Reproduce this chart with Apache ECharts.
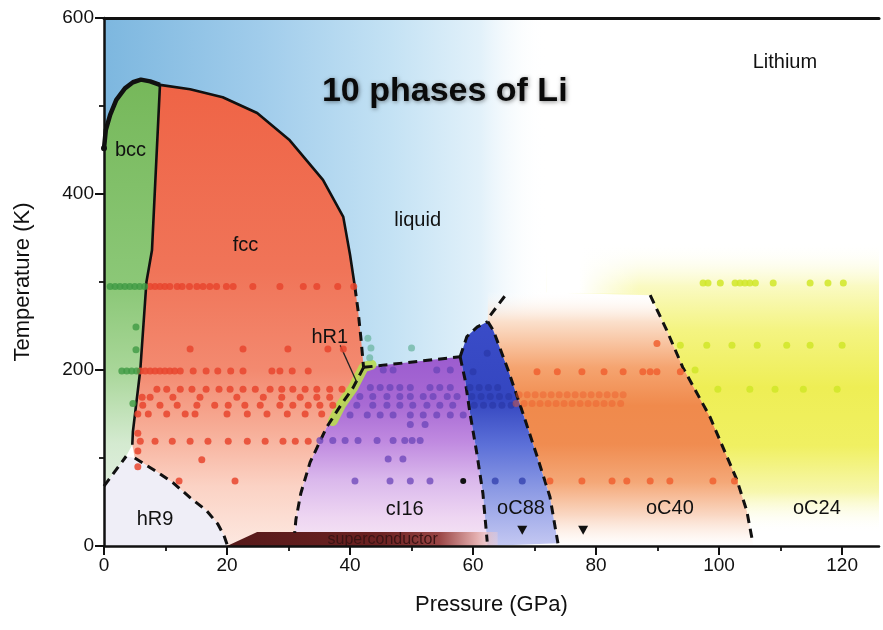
<!DOCTYPE html>
<html>
<head>
<meta charset="utf-8">
<script src="https://cdn.jsdelivr.net/npm/echarts@6/dist/echarts.min.js"></script>
<style>
html,body{margin:0;padding:0;background:#fff}
#chart{width:883px;height:630px}
</style>
</head>
<body>
<div id="chart"></div>
<script>
// ---- axis ticks ----
const xTicks = [0, 20, 40, 60, 80, 100, 120];
const xMinorTicks = [10, 30, 50, 70, 90, 110];
const yTicks = [0, 200, 400, 600];

// ---- phase boundaries, [pressure GPa, temperature K] ----
const meltBcc = [[0,452],[0.3,473],[1,490],[2,507],[3.4,520],[4.7,527],[6,530],[7.5,528],[9.1,524]];
const meltFcc = [[9.1,524],[14,519],[19.3,510],[24.9,492],[30.2,461],[35.6,416],[38.9,374],[40,331],[40.8,294]];
const meltDashed = [[40.8,294],[41.3,268],[41.8,234],[42.2,203]];
const bccFcc = [[9.1,524],[7.8,336],[6.9,300],[5.9,200],[4.7,130],[4.6,115]];
const hR9Left = [[0,68],[3.6,102]];
const hR9Curve = [[5,100],[8,87],[11.2,72],[14,55],[16.7,40],[18.5,25],[19.5,12],[20,2]];
const cI16Left = [[42.2,203],[40.5,180],[38.5,160],[36.2,135],[33.5,95],[32,60],[31.2,30],[31,15]];
const cI16Top = [[42.2,203],[57.9,215]];
const oC88Top = [[57.9,215],[59,238],[60.7,249],[62.4,255]];
const oC88Tail = [[62.8,262],[65.7,289]];
const cI16oC88 = [[57.9,215],[58.7,189],[59.5,151],[60.6,106],[61.6,60],[62.3,5]];
const oC88oC40 = [[62.4,255],[63.3,245],[65.7,200],[68.1,151],[70.5,100],[72.5,56],[73.8,3]];
const oC40oC24 = [[88.8,285],[91.5,245],[94.1,203],[98.5,147],[102.9,75],[104.5,40],[105.5,3]];
const superconductorEdge = [[20,0],[24.9,16],[64,16],[64,0]];
const hR1Leader = [[38.4,228],[41.1,186]];

// ---- measured points ----
const fccPoints = [
  [7.5,295],[8.3,295],[9.1,295],[9.9,295],[10.7,295],[11.9,295],[12.7,295],[13.9,295],[15.1,295],[16.1,295],[17.2,295],[18.3,295],[19.9,295],[21,295],[24.2,295],[28.6,295],[32.4,295],[34.6,295],[38,295],[40.6,295],
  [14,224],[22.6,224],[29.9,224],[36.4,224],[38.9,224],
  [5.9,199],[6.7,199],[7.5,199],[8.3,199],[9.1,199],[9.9,199],[10.7,199],[11.5,199],[12.4,199],[14.5,199],[16.6,199],[18.5,199],[20.6,199],[22.6,199],[27.3,199],[28.6,199],[30.6,199],[33.2,199],
  [8.6,178],[10.2,178],[12.4,178],[14.3,178],[16.6,178],[18.7,178],[20.5,178],[22.6,178],[24.6,178],[27,178],[28.9,178],[30.7,178],[32.7,178],[34.6,178],[36.7,178],[38.7,178],
  [6.2,169],[7.5,169],[11.2,169],[15.6,169],[21.6,169],[25.9,169],[28.9,169],[31.9,169],[34.6,169],[36.7,169],
  [6.3,160],[9.1,160],[11.9,160],[15.1,160],[18,160],[20.2,160],[22.9,160],[25.4,160],[28.6,160],[30.7,160],[33.2,160],[35.1,160],[37.2,160],
  [5.5,150],[7.2,150],[10.2,150],[13.2,150],[14.8,150],[20,150],[23.3,150],[26.5,150],[29.8,150],[32.7,150],[35.4,150],
  [5.5,128],
  [5.9,119],[8.3,119],[11.1,119],[14,119],[16.9,119],[20.2,119],[23.3,119],[26.2,119],[29.1,119],[31.1,119],[33.2,119],
  [5.5,108],[15.9,98],[5.5,90],[12.2,74],[21.3,74]
];
const bccPoints = [
  [1,295],[1.8,295],[2.6,295],[3.4,295],[4.2,295],[5,295],[5.8,295],[6.6,295],
  [5.2,249],[5.2,223],
  [2.9,199],[3.7,199],[4.5,199],[5.3,199],[4.7,162]
];
const cI16Points = [
  [45.4,200],[47,200],[54.1,200],[56.3,200],
  [43.3,180],[44.9,180],[46.5,180],[48.1,180],[49.8,180],[53,180],[54.6,180],[56.3,180],
  [41.6,170],[43.7,170],[46,170],[48.1,170],[49.8,170],[51.9,170],[53.5,170],[55.8,170],[57.4,170],
  [41.1,160],[43.7,160],[46,160],[48.1,160],[50.2,160],[52.5,160],[54.6,160],[56.7,160],
  [40,149],[42.8,149],[44.9,149],[47,149],[49.8,149],[51.9,149],[54.1,149],[56.3,149],[58.4,149],
  [49.8,138],[52.2,138],
  [35.1,120],[37.2,120],[39.2,120],[41.3,120],[44.4,120],[47,120],[48.9,120],[50.1,120],[51.4,120],
  [46.2,99],[48.6,99],
  [40.8,74],[46.5,74],[49.8,74],[53,74]
];
const oC88Points = [
  [62.3,219],[60,198],
  [59.5,180],[61,180],[62.5,180],[64,180],
  [59.8,170],[61.3,170],[62.8,170],[64.3,170],[65.8,170],
  [60.2,160],[61.7,160],[63.2,160],[64.7,160],[66.2,160],
  [63.6,74],[68,74]
];
const oC40Points = [
  [89.9,230],
  [70.4,198],[73.7,198],[77.7,198],[81.3,198],[84.4,198],[87.6,198],[88.8,198],[89.9,198],[93.7,198],
  [72.5,74],[77.7,74],[82.6,74],[85,74],[88.8,74],[92,74],[99,74],[102.5,74]
];
const oC40FaintPoints = [
  [67.5,172],[68.8,172],[70.1,172],[71.4,172],[72.7,172],[74,172],[75.3,172],[76.6,172],[77.9,172],[79.2,172],[80.5,172],[81.8,172],[83.1,172],[84.4,172],
  [67,162],[68.3,162],[69.6,162],[70.9,162],[72.2,162],[73.5,162],[74.8,162],[76.1,162],[77.4,162],[78.7,162],[80,162],[81.3,162],[82.6,162],[84,162]
];
const oC24Points = [
  [97.4,299],[98.2,299],[100.2,299],[102.6,299],[103.4,299],[104.2,299],[105,299],[105.9,299],[108.8,299],[114.8,299],[117.7,299],[120.2,299],
  [93.7,228],[98,228],[102.1,228],[106.2,228],[111,228],[114.8,228],[120,228],
  [96.1,200],
  [99.8,178],[105,178],[109.1,178],[113.7,178],[119.2,178]
];
const liquidPoints = [[42.9,236],[43.4,225],[43.2,214],[50,225]];
const blackPoints = [[0,452],[58.4,74]];
const triangleMarks = [[68,18],[77.9,18]];

// ---- text ----
const phaseNames = [
  ['bcc', 4.3, 449], ['fcc', 23, 342], ['liquid', 51, 370], ['hR1', 36.7, 237],
  ['hR9', 8.3, 30], ['cI16', 48.9, 41], ['oC88', 67.8, 43], ['oC40', 92, 43], ['oC24', 115.9, 43]
];
const titleText = ['10 phases of Li', 55.4, 516];
const elementText = ['Lithium', 110.7, 550];
const scText = ['superconductor', 45.3, 7];

const FONT = '"Liberation Sans", Arial, Helvetica, sans-serif';

function rev(a) { return a.slice().reverse(); }

// filled phase areas, built from the boundary arrays
const regions = [
  { name: 'liquid', pts: [[0,200],[72,200],[72,600],[0,600]],
    fill: (px) => grad(px(0,0)[0], 0, px(72,0)[0], 0,
      [[0,'#7db7df'],[0.35,'#a0cceb'],[0.65,'#c4e2f4'],[0.85,'#e2f1fa'],[1,'rgba(255,255,255,0)']]) },
  { name: 'oC24', pts: [[72,345],[126,345],[126,15],[105.5,15]].concat(rev(oC40oC24), [[72,288]]),
    fill: (px) => grad(0, px(0,345)[1], 0, px(0,15)[1],
      [[0,'rgba(255,255,255,0)'],[0.15,'#fafac2'],[0.3,'#f4f482'],[0.5,'#eeee55'],[0.7,'#f0f062'],[0.86,'#f7f7ae'],[1,'rgba(255,255,255,0)']]) },
  // soft white edge on the left of the oC24 tint, above the oC40 band
  { name: 'haze', pts: [[72,287],[88.8,287],[84.7,346],[72,346]],
    fill: (px) => grad(px(72,0)[0], 0, px(87,0)[0], 0,
      [[0,'#ffffff'],[0.35,'#ffffff'],[1,'rgba(255,255,255,0)']]) },
  { name: 'oC40', pts: [[62.4,290],[88.8,290]].concat(oC40oC24, [[105.5,0],[73.8,0]], rev(oC88oC40)),
    fill: (px) => grad(0, px(0,290)[1], 0, px(0,0)[1],
      [[0,'rgba(255,255,255,0)'],[0.12,'#fbe0cc'],[0.3,'#f5a470'],[0.45,'#f08a4c'],[0.6,'#f08c50'],[0.75,'#f4a878'],[0.88,'#fad8c4'],[1,'rgba(255,255,255,0.6)']]) },
  { name: 'fcc', pts: meltFcc.concat(meltDashed.slice(1), cI16Left.slice(1), [[31,0],[20,0]], rev(hR9Curve), [[4.6,115]], rev(bccFcc).slice(1)),
    fill: (px) => grad(0, px(0,524)[1], 0, px(0,0)[1],
      [[0,'#ef6446'],[0.4,'#f07458'],[0.62,'#f38a70'],[0.75,'#f7ae98'],[0.87,'#fbd2c4'],[1,'#fde8e0']]) },
  { name: 'bcc', pts: meltBcc.concat(bccFcc.slice(1), rev(hR9Left)),
    fill: (px) => grad(0, px(0,530)[1], 0, px(0,0)[1],
      [[0,'#76b85a'],[0.45,'#8cc878'],[0.62,'#a8d698'],[0.78,'#d4ead0'],[1,'#eef4ee']]) },
  { name: 'hR9', pts: [[0,0]].concat(hR9Left, hR9Curve, [[20,0]]),
    fill: () => '#efeef7' },
  { name: 'cI16', pts: cI16Top.concat(cI16oC88.slice(1), [[62.3,0],[31,0]], rev(cI16Left)),
    fill: (px) => grad(0, px(0,215)[1], 0, px(0,0)[1],
      [[0,'#9c5ccf'],[0.25,'#a86ad4'],[0.45,'#c08ae0'],[0.65,'#dab8ec'],[0.85,'#eed6f2'],[1,'#f6e6f4']]) },
  { name: 'oC88', pts: oC88Top.concat(oC88oC40.slice(1), [[62.3,0]], rev(cI16oC88)),
    fill: (px) => grad(0, px(0,255)[1], 0, px(0,0)[1],
      [[0,'#3a4cc8'],[0.35,'#3446c0'],[0.55,'#5c70d8'],[0.75,'#8c9ae4'],[1,'#c4c8f2']]) },
  { name: 'superconductor', pts: superconductorEdge,
    fill: (px) => grad(px(20,0)[0], 0, px(66,0)[0], 0,
      [[0,'#561a1a'],[0.55,'#6c2222'],[0.75,'#9a4646'],[0.88,'#e2acac'],[1,'rgba(255,225,225,0)']]) }
];

function grad(x0, y0, x1, y1, stops) {
  return new echarts.graphic.LinearGradient(x0, y0, x1, y1,
    stops.map(s => ({ offset: s[0], color: s[1] })), true);
}

function boundary(name, data, opts) {
  return Object.assign({
    name: name, type: 'line', data: data, showSymbol: false, symbol: 'none',
    silent: true, z: 4, animation: false,
    lineStyle: { color: '#111', width: 3, type: [9, 6], cap: 'butt' }
  }, opts || {});
}

function dots(name, data, color, size, opacity) {
  return {
    name: name, type: 'scatter', data: data, symbolSize: size, silent: true, z: 5,
    itemStyle: { color: color, opacity: opacity }
  };
}

function textItem(t, size, extra) {
  return {
    name: t[0], value: [t[1], t[2]],
    label: Object.assign({ show: true, formatter: '{b}', position: 'inside',
      fontFamily: FONT, fontSize: size, color: '#111' }, extra || {})
  };
}

const chart = echarts.init(document.getElementById('chart'), null, { renderer: 'canvas' });

const axisFont = { fontFamily: FONT, fontSize: 19, color: '#111' };

chart.setOption({
  animation: false,
  backgroundColor: '#ffffff',
  grid: { left: 104, top: 18, right: 4, bottom: 84, containLabel: false, outerBoundsMode: 'none' },
  xAxis: [
    {
      type: 'value', min: 0, max: 126, interval: 20, position: 'bottom', z: 10,
      name: 'Pressure (GPa)', nameLocation: 'middle', nameGap: 48,
      nameTextStyle: { fontFamily: FONT, fontSize: 22, color: '#111' },
      axisLine: { show: true, onZero: false, lineStyle: { color: '#111', width: 2.5 } },
      axisTick: { show: true, customValues: xTicks, length: 9, lineStyle: { color: '#111', width: 2 } },
      axisLabel: Object.assign({ customValues: xTicks, margin: 10 }, axisFont),
      splitLine: { show: false }
    },
    {
      type: 'value', min: 0, max: 126, position: 'bottom', z: 10,
      axisLine: { show: false },
      axisTick: { show: true, customValues: xMinorTicks, length: 5, lineStyle: { color: '#111', width: 1.8 } },
      axisLabel: { show: false }, splitLine: { show: false }
    },
    {
      type: 'value', min: 0, max: 126, position: 'top', z: 10,
      axisLine: { show: true, onZero: false, lineStyle: { color: '#111', width: 3 } },
      axisTick: { show: false }, axisLabel: { show: false }, splitLine: { show: false }
    }
  ],
  yAxis: [
    {
      type: 'value', min: 0, max: 600, interval: 200, position: 'left', z: 10,
      name: 'Temperature (K)', nameLocation: 'middle', nameGap: 70, nameRotate: 90,
      nameTextStyle: { fontFamily: FONT, fontSize: 22, color: '#111' },
      axisLine: { show: true, onZero: false, lineStyle: { color: '#111', width: 2.5 } },
      axisTick: { show: true, customValues: yTicks, length: 9, lineStyle: { color: '#111', width: 2 } },
      minorTick: { show: true, splitNumber: 2, length: 5, lineStyle: { color: '#111', width: 1.8 } },
      axisLabel: Object.assign({ customValues: yTicks, margin: 10 }, axisFont),
      splitLine: { show: false }, minorSplitLine: { show: false }
    }
  ],
  series: [
    {
      name: 'phases', type: 'custom', coordinateSystem: 'cartesian2d', silent: true, z: 1,
      data: regions.map((r, i) => [i, 0]),
      renderItem: function (params, api) {
        const r = regions[params.dataIndex];
        const px = (p, t) => api.coord([p, t]);
        return {
          type: 'polygon',
          shape: { points: r.pts.map(p => px(p[0], p[1])) },
          style: { fill: r.fill(px), stroke: null }
        };
      }
    },
    boundary('hR1 band', [[43.5,206],[42.2,203],[40.5,180],[38.5,160],[37.2,142]],
      { z: 2, lineStyle: { color: 'rgba(184,220,80,0.9)', width: 10, cap: 'round' } }),
    boundary('melting bcc', meltBcc, { lineStyle: { color: '#111', width: 4.5, type: 'solid' } }),
    boundary('melting fcc', meltFcc, { lineStyle: { color: '#111', width: 2.6, type: 'solid' } }),
    boundary('melting dashed', meltDashed),
    boundary('bcc-fcc', bccFcc, { lineStyle: { color: '#111', width: 2.6, type: 'solid' } }),
    boundary('hR9 left', hR9Left),
    boundary('hR9', hR9Curve),
    boundary('cI16 left', cI16Left),
    boundary('cI16 top', cI16Top),
    boundary('oC88 top', oC88Top),
    boundary('oC88 tail', oC88Tail),
    boundary('cI16-oC88', cI16oC88),
    boundary('oC88-oC40', oC88oC40),
    boundary('oC40-oC24', oC40oC24),
    boundary('hR1 leader', hR1Leader, { lineStyle: { color: '#222', width: 1.3, type: 'solid' } }),
    dots('fcc', fccPoints, '#e8452e', 7, 0.85),
    dots('bcc', bccPoints, '#3f9a44', 7, 0.8),
    dots('cI16', cI16Points, '#6a44b8', 7, 0.75),
    dots('oC88', oC88Points, '#2a38a8', 7, 0.7),
    dots('oC40 faint', oC40FaintPoints, '#ee5a2a', 7, 0.45),
    dots('oC40', oC40Points, '#f06030', 7, 0.85),
    dots('oC24', oC24Points, '#d0e628', 7, 0.85),
    dots('liquid', liquidPoints, '#72b8a6', 7, 0.8),
    dots('black', blackPoints, '#111', 6, 1),
    {
      name: 'triangles', type: 'scatter', data: triangleMarks, symbol: 'triangle',
      symbolRotate: 180, symbolSize: [10, 9], silent: true, z: 6, itemStyle: { color: '#111', opacity: 1 }
    },
    {
      name: 'text', type: 'scatter', symbolSize: 0, silent: true, z: 8,
      itemStyle: { opacity: 1 },
      data: phaseNames.map(t => textItem(t, 20)).concat([
        textItem(titleText, 34, { fontWeight: 'bold', color: '#0a0a0a',
          textShadowColor: 'rgba(0,0,0,0.45)', textShadowBlur: 4, textShadowOffsetX: 1, textShadowOffsetY: 1 }),
        textItem(elementText, 20),
        textItem(scText, 16, { color: '#3a1414' })
      ])
    }
  ]
});
</script>
</body>
</html>
